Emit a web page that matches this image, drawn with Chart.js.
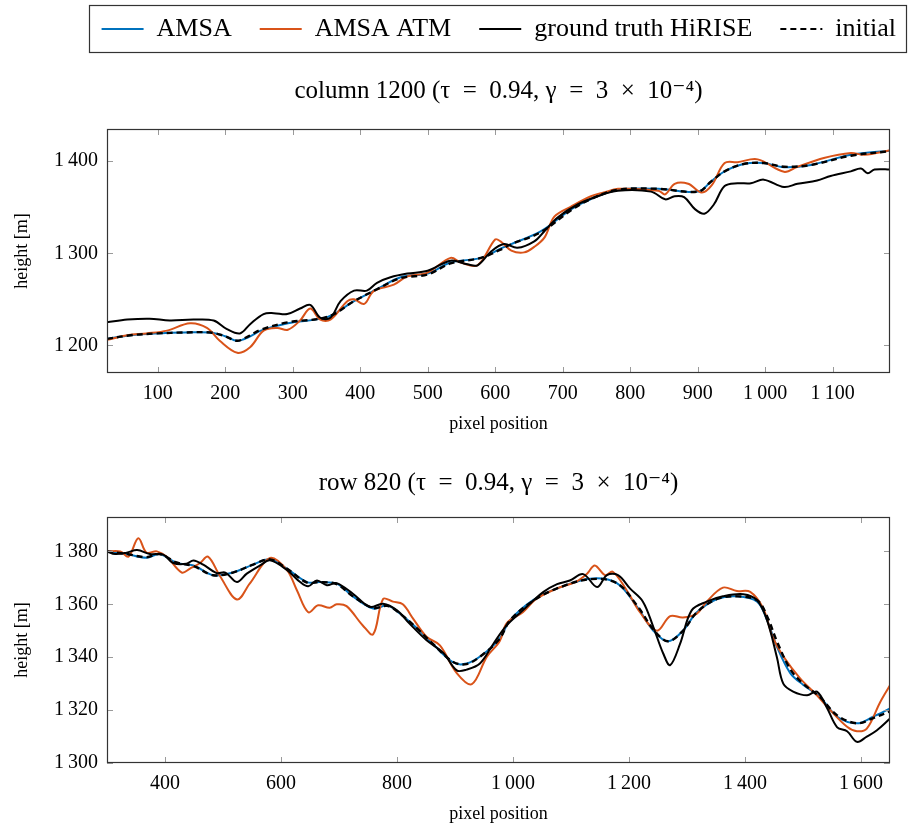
<!DOCTYPE html>
<html>
<head>
<meta charset="utf-8">
<script src="https://cdn.jsdelivr.net/npm/chart.js@4"></script>
<style>
body { margin: 0; background: #fff; }
#top { position: absolute; left: 0; top: 0; }
#bottom { position: absolute; left: 0; top: 445px; }
</style>
</head>
<body>
<canvas id="top" width="911" height="445"></canvas>
<canvas id="bottom" width="911" height="382"></canvas>
<script>
// ---- column 1200 ----
var colTicksX = [100, 200, 300, 400, 500, 600, 700, 800, 900, 1000, 1100];
var colTicksY = [1200, 1300, 1400];

var colAmsaX = [25, 60, 99, 140, 178, 200, 218, 235, 253, 293, 352, 391, 425, 460, 500, 534, 579, 608, 624, 668, 713, 742, 782, 842, 901, 920, 940, 968, 998, 1028, 1068, 1127, 1186];
var colAmsaY = [1207, 1211, 1213, 1214, 1214, 1210, 1205, 1209, 1216, 1224, 1231, 1248, 1261, 1274, 1278, 1290, 1295, 1305, 1310, 1324, 1348, 1359, 1369, 1370, 1367, 1378, 1389, 1397, 1398, 1393.5, 1396, 1407, 1411.5];
var colInitY = [1207, 1211, 1213, 1214, 1214, 1210, 1205, 1210, 1217, 1225, 1231, 1248, 1261, 1273, 1277, 1289, 1295, 1304, 1310, 1323, 1347, 1359, 1369, 1370, 1367, 1378, 1389, 1397, 1398, 1394, 1396, 1406, 1411];

var colAtmX = [25, 55, 84, 114, 148, 173, 192, 218, 237, 257, 277, 293, 311, 326, 341, 356, 381, 391, 406, 420, 450, 470, 500, 534, 549, 574, 600, 608, 624, 643, 658, 673, 688, 713, 742, 761, 782, 842, 852, 866, 886, 906, 921, 940, 959, 989, 1028, 1048, 1087, 1127, 1147, 1186];
var colAtmY = [1206, 1211, 1213, 1216, 1224, 1219, 1205, 1192, 1198, 1216, 1219, 1217, 1227, 1240, 1228, 1228, 1248, 1250, 1245, 1259, 1266, 1275, 1279, 1295, 1290, 1287, 1315, 1313, 1303, 1301, 1307, 1317, 1340, 1351, 1362, 1366, 1370, 1368, 1364, 1375.5, 1375.5, 1366, 1374, 1398, 1399, 1402, 1388.5, 1394, 1403.6, 1409, 1407, 1412];

var colGtX = [25, 55, 88, 118, 153, 183, 202, 222, 237, 257, 272, 292, 311, 326, 341, 356, 371, 391, 410, 425, 445, 470, 500, 534, 559, 574, 594, 613, 633, 658, 673, 693, 722, 752, 782, 831, 852, 866, 880, 896, 910, 924, 940, 959, 979, 998, 1028, 1048, 1077, 1097, 1127, 1142, 1152, 1162, 1186];
var colGtY = [1225, 1228, 1229, 1227, 1228, 1227, 1218, 1213, 1223, 1234, 1235, 1234, 1240, 1244, 1230, 1230, 1248, 1259.5, 1259.5, 1268, 1274, 1278, 1281, 1292, 1288, 1287, 1302, 1310, 1306, 1313, 1324, 1339, 1353, 1362, 1368, 1367, 1358.6, 1362, 1361, 1348, 1343, 1353, 1373, 1376, 1376, 1380, 1372, 1375.5, 1379, 1384, 1389, 1392, 1387, 1391, 1391];

// ---- row 820 ----
var rowTicksX = [400, 600, 800, 1000, 1200, 1400, 1600];
var rowTicksY = [1300, 1320, 1340, 1360, 1380];

var rowAmsaX = [300, 334, 368, 391, 420, 449, 483, 517, 552, 581, 610, 645, 667, 696, 724, 759, 783, 805, 834, 862, 897, 920, 948, 977, 995, 1034, 1076, 1133, 1179, 1214, 1242, 1267, 1293, 1317, 1352, 1386, 1421, 1438, 1455, 1478, 1500, 1529, 1559, 1593, 1621, 1650];
var rowAmsaY = [1380, 1379, 1377.6, 1379, 1375.6, 1374.7, 1371, 1372, 1375, 1377, 1373.5, 1368.4, 1368.4, 1367.8, 1363, 1358.4, 1359.6, 1356.5, 1351, 1345, 1338, 1337.6, 1341, 1347, 1354, 1361.5, 1366, 1369.7, 1368, 1359, 1350, 1346, 1350, 1357, 1362, 1363, 1361, 1354, 1344, 1334, 1329.6, 1325, 1317.5, 1315, 1317.5, 1320.6];
var rowInitY = [1380, 1379, 1377.8, 1379, 1375.8, 1374.5, 1371, 1372, 1375, 1377, 1373.5, 1368.2, 1368.4, 1367.6, 1363, 1358.6, 1359.4, 1356.5, 1351, 1345, 1338.2, 1337.4, 1341, 1347, 1354, 1361.2, 1366, 1369.5, 1368, 1359.5, 1350.5, 1346, 1350, 1357, 1362, 1363, 1361.5, 1355.5, 1346, 1335.5, 1330, 1325, 1318, 1315, 1317, 1319.5];

var rowAtmX = [300, 323, 337, 354, 368, 386, 403, 429, 443, 460, 474, 495, 524, 546, 581, 610, 627, 647, 664, 684, 696, 713, 741, 759, 776, 793, 810, 828, 851, 874, 903, 929, 955, 977, 989, 1017, 1040, 1076, 1110, 1128, 1141, 1159, 1172, 1196, 1219, 1248, 1271, 1293, 1317, 1334, 1362, 1386, 1409, 1431, 1448, 1466, 1495, 1524, 1547, 1576, 1593, 1610, 1633, 1650];
var rowAtmY = [1380, 1380, 1378, 1385, 1379.6, 1380, 1378, 1372, 1373.5, 1375.5, 1378, 1370.6, 1361.8, 1367.8, 1377.5, 1373, 1365.5, 1357, 1359.6, 1358.7, 1360, 1359.3, 1352, 1348.7, 1362, 1361, 1360, 1354.5, 1347.7, 1344.5, 1334, 1329.8, 1340.2, 1346, 1352.8, 1357, 1362, 1366, 1368.7, 1371.6, 1374.7, 1371, 1372.3, 1365.3, 1357, 1350, 1355.5, 1355, 1356.5, 1361, 1366.3, 1365, 1364.7, 1358.6, 1347.5, 1340.3, 1332, 1325.6, 1320, 1313.7, 1312, 1313, 1323, 1329.4];

var rowGtX = [300, 314, 334, 352, 374, 397, 414, 437, 449, 466, 489, 504, 524, 541, 564, 581, 610, 633, 647, 662, 679, 696, 724, 753, 776, 800, 822, 851, 880, 903, 920, 943, 966, 989, 1017, 1052, 1076, 1098, 1121, 1145, 1162, 1181, 1202, 1224, 1242, 1259, 1271, 1288, 1308, 1334, 1362, 1397, 1421, 1438, 1455, 1466, 1483, 1507, 1524, 1541, 1559, 1576, 1593, 1610, 1627, 1650];
var rowGtY = [1380, 1379, 1379.5, 1380.5, 1379, 1378.8, 1375.6, 1375.3, 1376.6, 1375, 1371.8, 1372, 1368.4, 1371.6, 1374.7, 1376.6, 1373, 1368.4, 1366.8, 1369, 1367.2, 1368, 1364, 1359, 1360.2, 1357.7, 1352.6, 1346.4, 1341.6, 1335, 1335.3, 1337.6, 1345, 1352, 1357.7, 1364.6, 1367.6, 1369, 1371.4, 1366.5, 1371, 1371, 1365.9, 1361, 1351.4, 1341.4, 1337, 1345, 1357.7, 1361, 1363, 1363.8, 1361.5, 1354, 1340, 1330, 1327, 1325.6, 1327, 1321, 1313.5, 1312, 1308, 1310, 1312.3, 1316.8];

var FONT = "'Liberation Serif', 'DejaVu Serif', serif";
var BLUE = "#0072BD";
var ORANGE = "#D95319";

Chart.defaults.font.family = FONT;
Chart.defaults.color = "#000";

function fmt(v) {
    if (v >= 1000) {
        return Math.floor(v / 1000) + "\u2009" + String(v % 1000).padStart(3, "0");
    }
    return String(v);
}

function points(xs, ys) {
    return xs.map(function (x, i) { return { x: x, y: ys[i] }; });
}

function line(label, xs, ys, color, order, dash) {
    return {
        label: label,
        data: points(xs, ys),
        borderColor: color,
        backgroundColor: color,
        borderWidth: dash ? 2.4 : 2,
        borderDash: dash || [],
        pointRadius: 0,
        tension: 0.35,
        yAxisID: "y",
        order: order
    };
}

function xAxis(min, max, tickList) {
    return {
        type: "linear",
        min: min,
        max: max,
        afterBuildTicks: function (s) { s.ticks = tickList.map(function (v) { return { value: v }; }); },
        afterFit: function (s) { s.height = 62; },
        grid: { display: false, drawTicks: false },
        border: { display: false },
        ticks: { padding: 9, font: { size: 20 }, maxRotation: 0, autoSkip: false, callback: function (v) { return fmt(v); } },
        title: { display: true, text: "pixel position", font: { size: 18 }, padding: { top: 0, bottom: 0 } }
    };
}

function yAxis(min, max, tickList) {
    return {
        type: "linear",
        position: "left",
        min: min,
        max: max,
        afterBuildTicks: function (s) { s.ticks = tickList.map(function (v) { return { value: v }; }); },
        afterFit: function (s) { s.width = 107; },
        grid: { display: false, drawTicks: false },
        border: { display: false },
        ticks: { padding: 9, font: { size: 20 }, autoSkip: false, callback: function (v) { return fmt(v); } },
        title: { display: true, text: "height [m]", font: { size: 18 }, padding: { top: 11, bottom: 0 } }
    };
}

// frame round the plot area, with inward tick marks
var frame = {
    id: "frame",
    afterDatasetsDraw: function (chart) {
        var ctx = chart.ctx, a = chart.chartArea;
        var sx = chart.scales.x, sy = chart.scales.y;
        ctx.save();
        ctx.strokeStyle = "#9a9a9a";
        ctx.lineWidth = 1;
        ctx.beginPath();
        sx.ticks.forEach(function (t) {
            var px = Math.round(sx.getPixelForValue(t.value)) + 0.5;
            ctx.moveTo(px, a.bottom); ctx.lineTo(px, a.bottom - 6);
            ctx.moveTo(px, a.top); ctx.lineTo(px, a.top + 6);
        });
        sy.ticks.forEach(function (t) {
            var py = Math.round(sy.getPixelForValue(t.value)) + 0.5;
            ctx.moveTo(a.left, py); ctx.lineTo(a.left + 6, py);
            ctx.moveTo(a.right, py); ctx.lineTo(a.right - 6, py);
        });
        ctx.stroke();
        ctx.strokeStyle = "#333";
        ctx.lineWidth = 1.2;
        ctx.strokeRect(Math.round(a.left) + 0.5, Math.round(a.top) + 0.5, Math.round(a.right - a.left) - 1, Math.round(a.bottom - a.top) - 1);
        ctx.restore();
    }
};

// border round the legend
var legendFrame = {
    id: "legendFrame",
    afterDraw: function (chart) {
        var lg = chart.legend;
        if (!lg || !lg.options.display || !lg.legendHitBoxes.length) return;
        var hb = lg.legendHitBoxes;
        var left = Math.min.apply(null, hb.map(function (h) { return h.left; })) - 13;
        var right = Math.max.apply(null, hb.map(function (h) { return h.left + h.width; })) + 10;
        var cy = hb[0].top + hb[0].height / 2;
        var ctx = chart.ctx;
        ctx.save();
        ctx.strokeStyle = "#333";
        ctx.lineWidth = 1.2;
        ctx.strokeRect(Math.round(left) + 0.5, Math.round(cy - 24) + 0.5, Math.round(right - left), 47);
        ctx.restore();
    }
};

function legendItems(chart) {
    var items = Chart.defaults.plugins.legend.labels.generateLabels(chart);
    items.forEach(function (it) {
        var d = chart.data.datasets[it.datasetIndex];
        it.lineDash = d.borderDash;
        it.lineWidth = 2;
        it.strokeStyle = d.borderColor;
        it.fillStyle = d.borderColor;
    });
    return items.sort(function (a, b) { return a.datasetIndex - b.datasetIndex; });
}

var titleTop = "column 1200 (\u03C4\u2002=\u20020.94, \u03B3\u2002=\u20023\u2002\u00D7\u200210\u207B\u2074)";
var titleBottom = "row 820 (\u03C4\u2002=\u20020.94, \u03B3\u2002=\u20023\u2002\u00D7\u200210\u207B\u2074)";

var ctxTop = document.getElementById("top").getContext("2d");
var chartTop = new Chart(ctxTop, {
    type: "line",
    data: {
        datasets: [
            line("AMSA", colAmsaX, colAmsaY, BLUE, 4),
            line("AMSA ATM", colAtmX, colAtmY, ORANGE, 3),
            line("ground truth HiRISE", colGtX, colGtY, "#000", 2),
            line("initial", colAmsaX, colInitY, "#000", 1, [6, 4])
        ]
    },
    options: {
        responsive: false,
        animation: false,
        layout: { padding: { top: -12, right: -13, bottom: 10, left: 0 } },
        scales: {
            x: xAxis(25, 1185, colTicksX),
            y: yAxis(1170, 1435, colTicksY),
            yR: {
                type: "linear", position: "right", display: true,
                ticks: { display: false }, grid: { display: false, drawTicks: false }, border: { display: false },
                afterFit: function (s) { s.width = 34; }
            }
        },
        plugins: {
            legend: {
                display: true,
                position: "top",
                align: "end",
                weight: 1000,
                labels: {
                    usePointStyle: true,
                    pointStyle: "line",
                    pointStyleWidth: 42,
                    padding: 28,
                    color: "#000",
                    font: { size: 26 },
                    generateLabels: legendItems
                }
            },
            title: {
                display: true,
                fullSize: false,
                weight: 500,
                text: titleTop,
                font: { size: 25, weight: "normal" },
                padding: { top: 24, bottom: 23 }
            },
            tooltip: { enabled: false }
        }
    },
    plugins: [frame, legendFrame]
});

var ctxBottom = document.getElementById("bottom").getContext("2d");
var chartBottom = new Chart(ctxBottom, {
    type: "line",
    data: {
        datasets: [
            line("AMSA", rowAmsaX, rowAmsaY, BLUE, 4),
            line("AMSA ATM", rowAtmX, rowAtmY, ORANGE, 3),
            line("ground truth HiRISE", rowGtX, rowGtY, "#000", 2),
            line("initial", rowAmsaX, rowInitY, "#000", 1, [6, 4])
        ]
    },
    options: {
        responsive: false,
        animation: false,
        layout: { padding: { top: 0, right: 21, bottom: 2, left: 0 } },
        scales: {
            x: xAxis(300, 1650, rowTicksX),
            y: yAxis(1300, 1393, rowTicksY)
        },
        plugins: {
            legend: { display: false },
            title: {
                display: true,
                fullSize: false,
                text: titleBottom,
                font: { size: 25, weight: "normal" },
                padding: { top: 23, bottom: 19 }
            },
            tooltip: { enabled: false }
        }
    },
    plugins: [frame]
});
</script>
</body>
</html>
